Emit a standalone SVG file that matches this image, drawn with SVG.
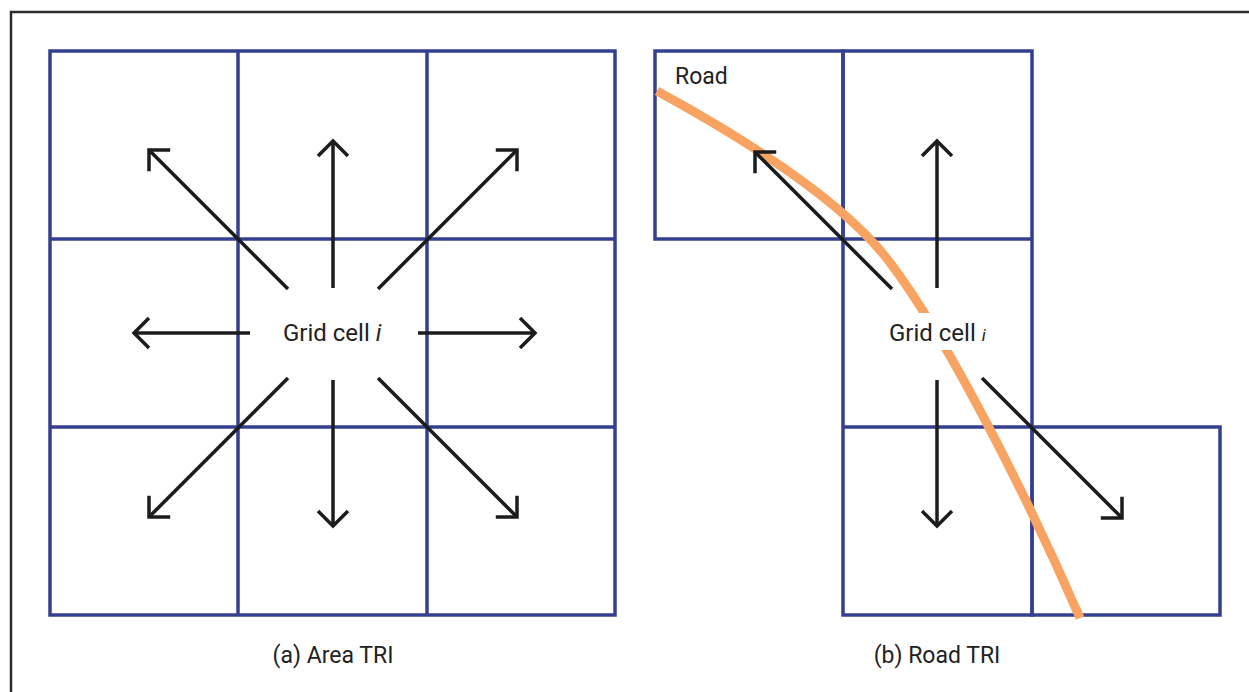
<svg xmlns="http://www.w3.org/2000/svg" width="1249" height="692" viewBox="0 0 1249 692">
  <style>
    .cell { fill: none; stroke: #34408f; stroke-width: 3.5; }
    .arr { fill: none; stroke: #1c1c1c; stroke-width: 3.5; marker-end: url(#head); }
    .lbl { font-family: Roboto, "Liberation Sans", sans-serif; font-size: 23px; fill: #222; }
    .big { font-size: 24px; }
    .road { fill: none; stroke: #f9a362; stroke-width: 9; }
  </style>
  <defs>
    <marker id="head" markerUnits="userSpaceOnUse" markerWidth="40" markerHeight="40" viewBox="-20 -20 40 40" refX="0" refY="0" orient="auto" overflow="visible">
      <path d="M-15,-15 L0,0 L-15,15" fill="none" stroke="#1c1c1c" stroke-width="3.5" stroke-linejoin="miter"/>
    </marker>
  </defs>
  <rect width="1249" height="692" fill="#fff"/>
  <path d="M11,692 V12 H1249" fill="none" stroke="#2d2d2d" stroke-width="2.5"/>

  <g id="panel-a-grid">
    <rect class="cell" x="50" y="51" width="565" height="564"/>
    <line class="cell" x1="238" y1="51" x2="238" y2="615"/>
    <line class="cell" x1="427" y1="51" x2="427" y2="615"/>
    <line class="cell" x1="50" y1="239" x2="615" y2="239"/>
    <line class="cell" x1="50" y1="427" x2="615" y2="427"/>
  </g>

  <g id="panel-b-grid">
    <rect class="cell" x="655" y="51" width="188" height="188"/>
    <rect class="cell" x="843" y="51" width="189" height="564"/>
    <line class="cell" x1="843" y1="239" x2="1032" y2="239"/>
    <line class="cell" x1="843" y1="427" x2="1032" y2="427"/>
    <rect class="cell" x="1032" y="427" width="188" height="188"/>
  </g>

  <g id="road">
    <path class="road" d="M657,91 C732,132 838,195 888,260 C948,338 1030,503 1080,618"/>
    <text class="lbl" x="675" y="84">Road</text>
  </g>

  <g id="connectors">
    <line class="arr" x1="333" y1="288" x2="333" y2="141"/>
    <line class="arr" x1="333" y1="380" x2="333" y2="526"/>
    <line class="arr" x1="250" y1="333" x2="134" y2="333"/>
    <line class="arr" x1="418" y1="333" x2="535" y2="333"/>
    <line class="arr" x1="288" y1="289" x2="149" y2="150"/>
    <line class="arr" x1="378" y1="289" x2="517" y2="150"/>
    <line class="arr" x1="288" y1="378" x2="149" y2="517"/>
    <line class="arr" x1="378" y1="378" x2="517" y2="517"/>

    <line class="arr" x1="937" y1="288" x2="937" y2="141"/>
    <line class="arr" x1="937" y1="380" x2="937" y2="526"/>
    <line class="arr" x1="892" y1="289" x2="755" y2="152"/>
    <line class="arr" x1="982" y1="378" x2="1122" y2="518"/>
  </g>

  <g id="node-a-center">
    <text class="lbl big" x="283" y="341">Grid cell <tspan font-style="italic">i</tspan></text>
  </g>

  <g id="node-b-center">
    <rect x="882" y="313" width="112" height="37" fill="#fff"/>
    <text class="lbl big" x="889" y="341">Grid cell <tspan font-style="italic" font-size="17">i</tspan></text>
  </g>

  <g id="captions">
    <text class="lbl" x="333" y="663" text-anchor="middle">(a) Area TRI</text>
    <text class="lbl" x="937" y="663" text-anchor="middle">(b) Road TRI</text>
  </g>
</svg>
